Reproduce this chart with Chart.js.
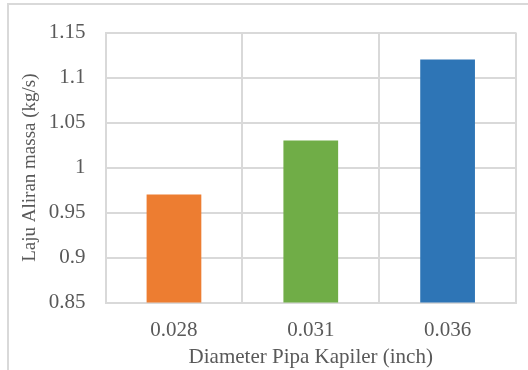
<!DOCTYPE html>
<html>
<head>
<meta charset="utf-8">
<script src="https://cdn.jsdelivr.net/npm/chart.js@4"></script>
<style>
  html, body { margin: 0; padding: 0; background: #fff; }
  #wrap { position: relative; width: 528px; height: 370px; overflow: hidden; }
  #frame { position: absolute; left: 7px; top: 3px; width: 600px; height: 500px; border: 2px solid #d9d9d9; box-sizing: border-box; }
  #chart { position: absolute; left: 0; top: 0; }
</style>
</head>
<body>
<div id="wrap">
  <div id="frame"></div>
  <canvas id="chart" width="528" height="370"></canvas>
</div>
<script>
// === Data ===
const diameters = ['0.028', '0.031', '0.036'];
const massFlow = [0.97, 1.03, 1.12];
const barColors = ['#ED7D31', '#70AD47', '#2E75B6'];
const yMin = 0.85, yMax = 1.15, yStep = 0.05;

const textColor = '#595959';
const gridColor = '#d9d9d9';
const fontFamily = '"Liberation Serif", "Times New Roman", serif';
const fontSize = 21;

// note: chart.js counts ticks.padding twice when sizing an axis,
// so the title paddings are negative to pull things back in place
new Chart(document.getElementById('chart').getContext('2d'), {
  type: 'bar',
  data: {
    labels: diameters,
    datasets: [{
      data: massFlow,
      backgroundColor: barColors,
      borderWidth: 0,
      categoryPercentage: 1,
      barPercentage: 0.4
    }]
  },
  options: {
    responsive: false,
    animation: false,
    layout: { padding: { left: 17, right: 12, top: 28, bottom: 0 } },
    plugins: { legend: { display: false }, tooltip: { enabled: false } },
    scales: {
      x: {
        grid: { color: gridColor, lineWidth: 2, drawTicks: false, offset: true },
        border: { color: gridColor, width: 2 },
        ticks: { color: textColor, font: { family: fontFamily, size: fontSize }, padding: 15 },
        title: { display: true, text: 'Diameter Pipa Kapiler (inch)', color: textColor,
                 font: { family: fontFamily, size: fontSize }, padding: { top: -13, bottom: 0 } }
      },
      y: {
        min: yMin, max: yMax,
        grid: { color: gridColor, lineWidth: 2, drawTicks: false },
        border: { color: gridColor, width: 2 },
        ticks: { stepSize: yStep, color: textColor, font: { family: fontFamily, size: fontSize }, padding: 20,
                 callback: v => String(Number(v.toFixed(2))) },
        title: { display: true, text: 'Laju Aliran massa (kg/s)', color: textColor,
                 font: { family: fontFamily, size: 19 }, padding: { top: 2, bottom: -13 } }
      }
    }
  }
});
</script>
</body>
</html>
